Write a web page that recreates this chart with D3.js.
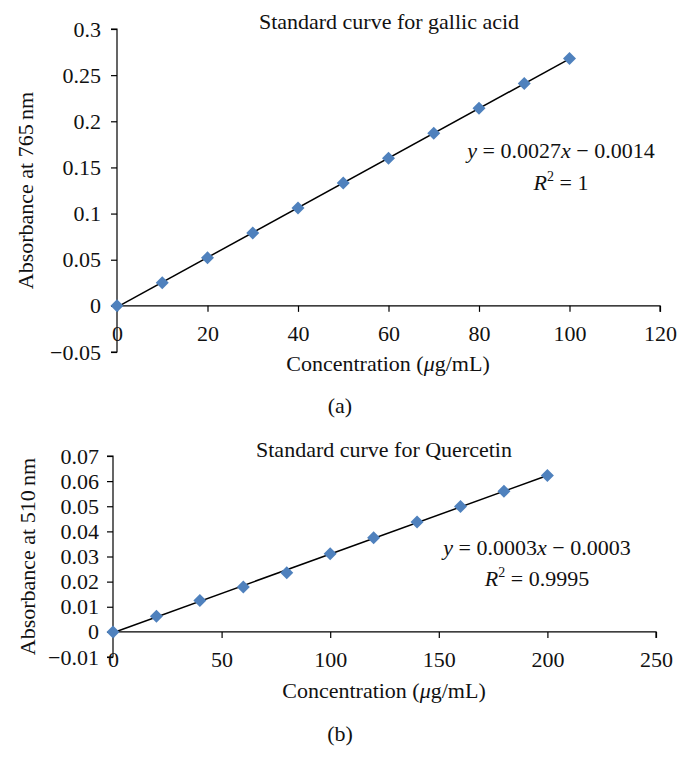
<!DOCTYPE html>
<html>
<head>
<meta charset="utf-8">
<script src="https://cdn.jsdelivr.net/npm/d3@7"></script>
<style>
  html, body { margin: 0; padding: 0; background: #fff; }
  svg { display: block; font-family: "Liberation Serif", "Times New Roman", serif; }
</style>
</head>
<body>
<svg id="chart" width="689" height="778"></svg>
<script>
// ---------- Data ----------
const gallicConc = [0, 10, 20, 30, 40, 50, 60, 70, 80, 90, 100];
const gallicAbs  = [0, 0.025, 0.052, 0.079, 0.106, 0.133, 0.160, 0.187, 0.214, 0.241, 0.268];
const gallicXTicks = [0, 20, 40, 60, 80, 100, 120];
const gallicYTicks = [-0.05, 0, 0.05, 0.1, 0.15, 0.2, 0.25, 0.3];

const quercConc = [0, 20, 40, 60, 80, 100, 120, 140, 160, 180, 200];
const quercAbs  = [0, 0.0062, 0.0125, 0.0179, 0.0235, 0.0311, 0.0375, 0.0437, 0.0499, 0.0560, 0.0622];
const quercXTicks = [0, 50, 100, 150, 200, 250];
const quercYTicks = [-0.01, 0, 0.01, 0.02, 0.03, 0.04, 0.05, 0.06, 0.07];

const panels = [
  {
    title: "Standard curve for gallic acid",
    yLabel: "Absorbance at 765\u2009nm",
    tag: "(a)",
    x: gallicConc, y: gallicAbs, xTicks: gallicXTicks, yTicks: gallicYTicks,
    eq: ["0.0027", "0.0014"], r2: "1",
    xr: [117, 660], yr: [352, 29],
    titleY: 29, titleX: 389, xLabelX: 388, xLabelY: 371, tagY: 413,
    eqX: 561, eqY: 158, r2Y: 190, yLabelX: 33, yPad: 10
  },
  {
    title: "Standard curve for Quercetin",
    yLabel: "Absorbance at 510\u2009nm",
    tag: "(b)",
    x: quercConc, y: quercAbs, xTicks: quercXTicks, yTicks: quercYTicks,
    eq: ["0.0003", "0.0003"], r2: "0.9995",
    xr: [113, 656], yr: [657, 456],
    titleY: 457, titleX: 384, xLabelX: 384, xLabelY: 698, tagY: 741,
    eqX: 537, eqY: 555, r2Y: 586, yLabelX: 35, yPad: 8
  }
];

const svg = d3.select("#chart");
const FS = 22;
const blue = "#4f81bd";
const ink = "#111";

function diamond(r) {
  return `M0,${-r}L${r},0L0,${r}L${-r},0Z`;
}
function fmt(v) {
  const s = String(+v.toFixed(4));
  return v < 0 ? "\u2212" + s.replace("-", "") : s;
}

panels.forEach(p => {
  const xs = d3.scaleLinear().domain(d3.extent(p.xTicks)).range(p.xr);
  const ys = d3.scaleLinear().domain(d3.extent(p.yTicks)).range(p.yr);
  const g = svg.append("g");
  const y0 = ys(0);

  // y axis
  const yAxis = d3.axisLeft(ys).tickValues(p.yTicks).tickSize(6).tickPadding(p.yPad).tickFormat(fmt);
  const ya = g.append("g").attr("transform", `translate(${p.xr[0]},0)`).call(yAxis);
  ya.select(".domain").attr("stroke", "#000").attr("stroke-width", 1.2).attr("d", `M-6,${p.yr[0]}H0V${p.yr[1]}H-6`);
  ya.selectAll(".tick line").attr("stroke", "#000").attr("stroke-width", 1.2);
  ya.selectAll(".tick text").attr("font-size", FS).attr("font-family", "Liberation Serif").attr("fill", ink);

  // x axis (at y = 0)
  const xAxis = d3.axisBottom(xs).tickValues(p.xTicks).tickSize(6).tickPadding(14).tickFormat(fmt);
  const xa = g.append("g").attr("transform", `translate(0,${y0})`).call(xAxis);
  xa.select(".domain").attr("stroke", "#000").attr("stroke-width", 1.2).attr("d", `M${p.xr[0]},0H${p.xr[1]}V6`);
  xa.selectAll(".tick line").attr("stroke", "#000").attr("stroke-width", 1.2);
  xa.selectAll(".tick text").attr("font-size", FS).attr("font-family", "Liberation Serif").attr("fill", ink);

  // linear trend line (least squares from the data)
  const mx = d3.mean(p.x), my = d3.mean(p.y);
  const slope = d3.sum(p.x, (d, i) => (d - mx) * (p.y[i] - my)) / d3.sum(p.x, d => (d - mx) * (d - mx));
  const icpt = my - slope * mx;
  const xMin = d3.min(p.x), xMax = d3.max(p.x);
  g.append("path")
    .attr("d", d3.line()([[xs(xMin), ys(icpt + slope * xMin)], [xs(xMax), ys(icpt + slope * xMax)]]))
    .attr("stroke", "#000").attr("stroke-width", 1.5).attr("fill", "none");

  // points
  g.selectAll("path.pt").data(p.x.map((d, i) => [d, p.y[i]])).join("path")
    .attr("class", "pt")
    .attr("transform", d => `translate(${xs(d[0])},${ys(d[1])})`)
    .attr("d", diamond(6.5))
    .attr("fill", blue);

  // title
  g.append("text").attr("x", p.titleX).attr("y", p.titleY).attr("text-anchor", "middle")
    .attr("font-size", FS).attr("fill", ink).text(p.title);

  // y label
  g.append("text")
    .attr("transform", `translate(${p.yLabelX},${(p.yr[0] + p.yr[1]) / 2}) rotate(-90)`)
    .attr("text-anchor", "middle").attr("font-size", FS).attr("fill", ink).text(p.yLabel);

  // x label
  const xl = g.append("text").attr("x", p.xLabelX).attr("y", p.xLabelY).attr("text-anchor", "middle")
    .attr("font-size", FS).attr("fill", ink);
  xl.append("tspan").text("Concentration (");
  xl.append("tspan").attr("font-style", "italic").text("\u03bc");
  xl.append("tspan").text("g/mL)");

  // tag
  g.append("text").attr("x", 340).attr("y", p.tagY).attr("text-anchor", "middle")
    .attr("font-size", FS).attr("fill", ink).text(p.tag);

  // equation
  const eq = g.append("text").attr("x", p.eqX).attr("y", p.eqY).attr("text-anchor", "middle")
    .attr("font-size", FS).attr("fill", ink);
  eq.append("tspan").attr("font-style", "italic").text("y");
  eq.append("tspan").text(" = " + p.eq[0]);
  eq.append("tspan").attr("font-style", "italic").text("x");
  eq.append("tspan").text(" \u2212 " + p.eq[1]);

  const r2 = g.append("text").attr("x", p.eqX).attr("y", p.r2Y).attr("text-anchor", "middle")
    .attr("font-size", FS).attr("fill", ink);
  r2.append("tspan").attr("font-style", "italic").text("R");
  r2.append("tspan").attr("font-size", 14).attr("dy", -9).text("2");
  r2.append("tspan").attr("dy", 9).text(" = " + p.r2);
});
</script>
</body>
</html>
